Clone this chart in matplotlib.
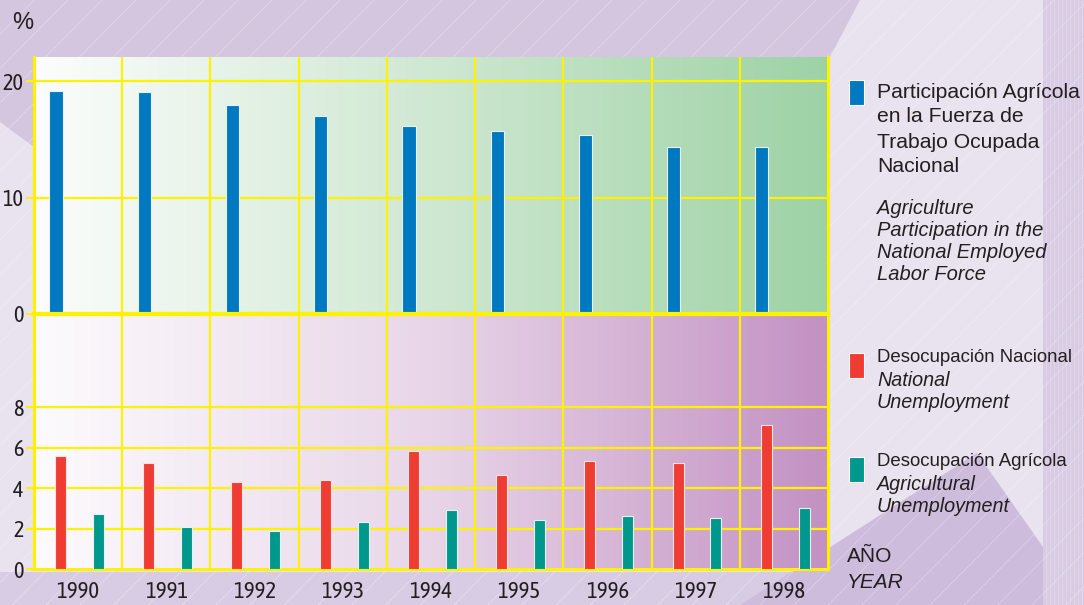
import numpy as np
import matplotlib
matplotlib.use("Agg")
import matplotlib.pyplot as plt
from matplotlib import font_manager as fm
from matplotlib.colors import LinearSegmentedColormap
from matplotlib.patches import Polygon, Rectangle

years = ['1990', '1991', '1992', '1993', '1994', '1995', '1996', '1997', '1998']
agri_share = [19.2, 19.1, 18.0, 17.0, 16.2, 15.7, 15.4, 14.4, 14.4]
unemp_nat = [5.6, 5.23, 4.32, 4.42, 5.82, 4.63, 5.33, 5.23, 7.14]
unemp_agri = [2.7, 2.09, 1.9, 2.31, 2.92, 2.43, 2.62, 2.5, 3.0]

top_ticks = [0, 10, 20]
bot_ticks = [0, 2, 4, 6, 8]

BLUE = '#0079c1'
RED = '#ef3d33'
TEAL = '#00978d'
YEL = '#fff200'
BG = '#e9e2ef'
DARK = '#d5c6df'
sans = ['Liberation Sans', 'DejaVu Sans']


def pick_narrow():
    # a condensed face for the tick labels, if one is installed
    fl = fm.fontManager.ttflist
    for test in (lambda f: f.name == 'Liberation Sans Narrow' and f.style == 'normal' and f.weight in (400, 'normal'),
                 lambda f: 'Condensed' in f.name and f.style == 'normal' and f.weight in (400, 'normal'),
                 lambda f: f.name == 'DejaVu Sans' and f.stretch == 'condensed' and f.style == 'normal'
                 and f.weight in (400, 'normal')):
        for f in fl:
            if test(f):
                return fm.FontProperties(fname=f.fname)
    return fm.FontProperties(family=sans)


narrow = pick_narrow()

W, H = 1084, 605
fig = plt.figure(figsize=(W / 100, H / 100), dpi=100, facecolor=BG)

# background in pixel coordinates
bg = fig.add_axes([0, 0, 1, 1])
bg.set_xlim(0, W)
bg.set_ylim(H, 0)
bg.axis('off')
bg.add_patch(Rectangle((0, 0), W, H, color=BG, zorder=0))
bg.add_patch(Polygon([(0, 0), (860, 0), (830, 57), (34, 57), (34, 147), (0, 122)],
                     closed=True, color=DARK, zorder=1, lw=0))
bg.add_patch(Polygon([(0, 572), (1043, 572), (1043, 605), (0, 605)],
                     closed=True, color='#d8cce4', zorder=1, lw=0))
bg.add_patch(Polygon([(740, 605), (977, 453), (1043, 547), (1043, 605)],
                     closed=True, color='#cdbcdc', zorder=1, lw=0))
bg.add_patch(Rectangle((1043, 0), W - 1043, H, color='#d9cbe4', zorder=1, lw=0))
for xs in np.arange(1046, W, 4):
    bg.plot([xs, xs], [0, H], color='white', lw=0.4, alpha=0.35, zorder=2)
for x0 in np.arange(-600, W + 100, 34):
    bg.plot([x0, x0 + 600], [H, 0], color='white', lw=0.5, alpha=0.35, zorder=2)

bg.text(12, 23, '%', fontsize=17, color='#231f20', family=sans, va='center', ha='left')

# legend
bg.add_patch(Rectangle((849, 80), 15, 25, facecolor=BLUE, edgecolor='white', lw=0.8, zorder=3))
bg.add_patch(Rectangle((849, 353), 15, 25, facecolor=RED, edgecolor='white', lw=0.8, zorder=3))
bg.add_patch(Rectangle((849, 457), 15, 25, facecolor=TEAL, edgecolor='white', lw=0.8, zorder=3))

txt = '#231f20'
for i, s in enumerate(['Participación Agrícola', 'en la Fuerza de',
                       'Trabajo Ocupada', 'Nacional']):
    bg.text(877, 92 + i * 25, s, fontsize=15.2, color=txt, family=sans, va='center', zorder=4)
for i, s in enumerate(['Agriculture', 'Participation in the',
                       'National Employed', 'Labor Force']):
    bg.text(877, 208 + i * 22.3, s, fontsize=14.5, style='italic', color=txt,
            family=sans, va='center', zorder=4)
bg.text(877, 357, 'Desocupación Nacional', fontsize=13.4, color=txt, family=sans, va='center', zorder=4)
bg.text(877, 380, 'National', fontsize=14.2, style='italic', color=txt, family=sans, va='center', zorder=4)
bg.text(877, 403, 'Unemployment', fontsize=14.2, style='italic', color=txt, family=sans, va='center', zorder=4)
bg.text(877, 462, 'Desocupación Agrícola', fontsize=13.4, color=txt, family=sans, va='center', zorder=4)
bg.text(877, 484, 'Agricultural', fontsize=14.2, style='italic', color=txt, family=sans, va='center', zorder=4)
bg.text(877, 507, 'Unemployment', fontsize=14.2, style='italic', color=txt, family=sans, va='center', zorder=4)
bg.text(847, 557, 'AÑO', fontsize=15, color=txt, family=sans, va='center', zorder=4)
bg.text(847, 582, 'YEAR', fontsize=15, style='italic', color=txt, family=sans, va='center', zorder=4)

left = 34 / W
width = 794 / W
ax1 = fig.add_axes([left, (H - 314) / H, width, 257 / H])
ax2 = fig.add_axes([left, (H - 569) / H, width, 255 / H])

green = LinearSegmentedColormap.from_list('g', ['#fcfdfc', '#cfe8d2', '#9ed2a5'])
pink = LinearSegmentedColormap.from_list('p', ['#fdfbfd', '#e8d6e8', '#c391c3'])
grad = np.linspace(0, 1, 256).reshape(1, -1)

n = len(years)
x = np.arange(n)
for ax, cmap, ymax in [(ax1, green, 22.1), (ax2, pink, 12.6)]:
    ax.imshow(grad, cmap=cmap, extent=(0, n, 0, ymax), aspect='auto', zorder=0)
    ax.set_xlim(0, n)
    ax.set_ylim(0, ymax)
    for xv in range(1, n):
        ax.axvline(xv, color=YEL, lw=1.6, zorder=2)
    for sp in ax.spines.values():
        sp.set_color(YEL)
        sp.set_linewidth(2.2)
    ax.tick_params(axis='y', colors=YEL, length=6, width=1.5, pad=1.5,
                   labelcolor='#231f20')

ax1.spines['top'].set_visible(False)
ax1.spines['bottom'].set_linewidth(3)
ax2.spines['top'].set_linewidth(3)

ax1.bar(x + 0.25, agri_share, width=0.15, color=BLUE, edgecolor='#e6f2f6', lw=0.8, zorder=3)
ax1.set_yticks(top_ticks)
ax1.set_yticklabels([str(v) for v in top_ticks], fontproperties=narrow, fontsize=16)
for yv in top_ticks[1:]:
    ax1.axhline(yv, color=YEL, lw=1.6, zorder=2)
ax1.set_xticks([])

ax2.bar(x + 0.30, unemp_nat, width=0.125, color=RED, edgecolor='#fbe3e3', lw=0.8, zorder=3)
ax2.bar(x + 0.73, unemp_agri, width=0.125, color=TEAL, edgecolor='#e3f3f1', lw=0.8, zorder=3)
ax2.set_yticks(bot_ticks)
ax2.set_yticklabels([str(v) for v in bot_ticks], fontproperties=narrow, fontsize=16)
for yv in bot_ticks[1:]:
    ax2.axhline(yv, color=YEL, lw=1.6, zorder=2)
ax2.set_xticks(x + 0.5)
ax2.set_xticklabels(years, fontproperties=narrow, fontsize=16.5)
ax2.tick_params(axis='x', length=0, pad=9, labelcolor='#231f20')

fig.savefig('out.png', dpi=100, facecolor=BG)
